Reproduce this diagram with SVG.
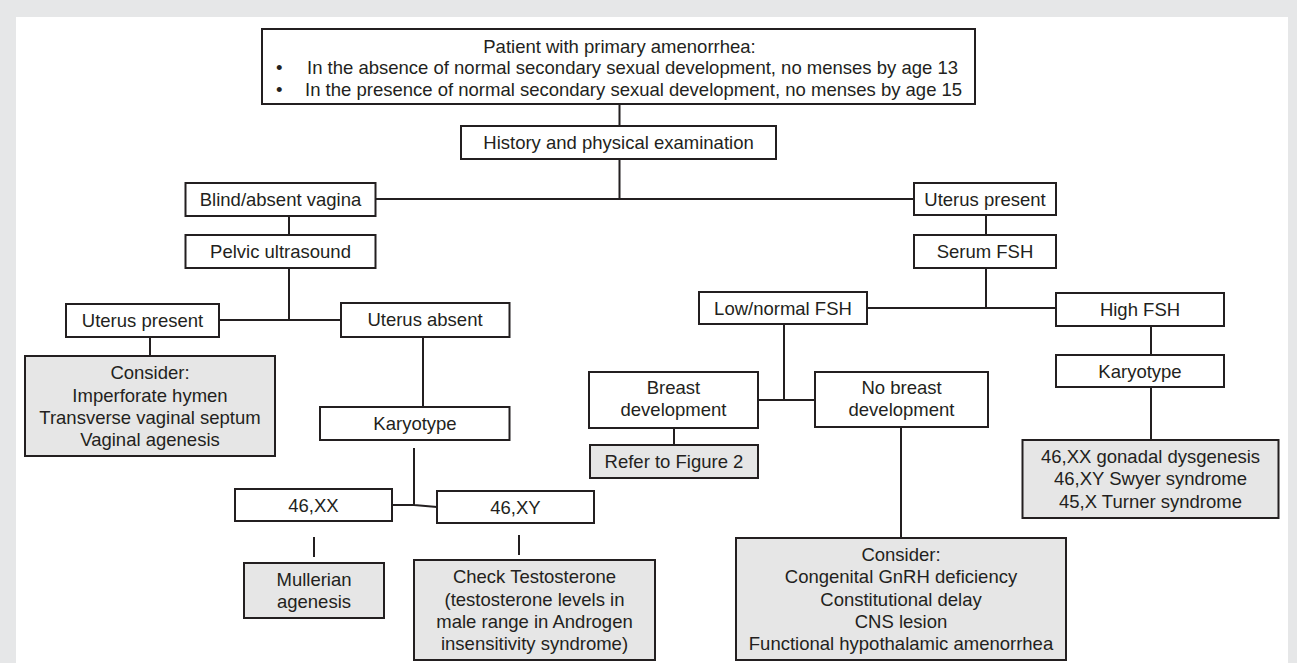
<svg xmlns="http://www.w3.org/2000/svg" width="1297" height="663" viewBox="0 0 1297 663">
<style>
.bx{fill:#ffffff;stroke:#231f20;stroke-width:2}
.gy{fill:#e6e6e6;stroke:#231f20;stroke-width:2}
.t{font-family:"Liberation Sans",Arial,sans-serif;font-size:18.5px;fill:#231f20;text-anchor:middle}
.l{font-family:"Liberation Sans",Arial,sans-serif;font-size:18.5px;fill:#231f20;text-anchor:start}
.c{fill:none;stroke:#231f20;stroke-width:2}
</style>
<rect x="0" y="0" width="1297" height="663" fill="#e6e7e8"/>
<rect x="16" y="17" width="1272" height="646" fill="#ffffff"/>
<g id="connectors">
<path class="c" d="M619.5 104V126 M619.5 159V199 M375.5 199H914 M289 216V235 M289 268V320 M219 320H341 M150 337V356 M423 337V407 M414 448V505 M392 505L414 505L437 507 M314 537V557 M519 535V555 M986 215V235 M986 268V308 M867 308H1056 M784 324V400 M758 400H815 M674 428V445 M901 427V538 M1151 326V355 M1151 387V440"/>
</g>
<g id="n-top"><rect class="bx" x="262" y="29" width="713" height="75"/>
<text class="t" x="619.5" y="53">Patient with primary amenorrhea:</text>
<text class="l" x="276" y="74">•</text><text class="l" x="307" y="74">In the absence of normal secondary sexual development, no menses by age 13</text>
<text class="l" x="276" y="96">•</text><text class="l" x="305" y="96">In the presence of normal secondary sexual development, no menses by age 15</text></g>
<g id="n-history"><rect class="bx" x="461" y="126" width="315" height="33"/><text class="t" x="618.5" y="149">History and physical examination</text></g>
<g id="n-blind"><rect class="bx" x="185.5" y="183" width="190" height="33"/><text class="t" x="280.5" y="206">Blind/absent vagina</text></g>
<g id="n-uterus-present-r"><rect class="bx" x="914" y="183" width="142" height="32"/><text class="t" x="985" y="206">Uterus present</text></g>
<g id="n-pelvic"><rect class="bx" x="185.5" y="235" width="190" height="33"/><text class="t" x="280.5" y="258">Pelvic ultrasound</text></g>
<g id="n-serum"><rect class="bx" x="914" y="235" width="142" height="33"/><text class="t" x="985" y="258">Serum FSH</text></g>
<g id="n-uterus-present-l"><rect class="bx" x="66" y="304" width="153" height="33"/><text class="t" x="142.5" y="327">Uterus present</text></g>
<g id="n-uterus-absent"><rect class="bx" x="341" y="303" width="168.5" height="34"/><text class="t" x="425" y="326">Uterus absent</text></g>
<g id="n-lownormal"><rect class="bx" x="699" y="292" width="168" height="32"/><text class="t" x="783" y="315">Low/normal FSH</text></g>
<g id="n-highfsh"><rect class="bx" x="1056" y="293" width="168" height="33"/><text class="t" x="1140" y="316">High FSH</text></g>
<g id="n-consider-l"><rect class="gy" x="25" y="356" width="250" height="100"/>
<text class="t" x="150" y="379">Consider:</text><text class="t" x="150" y="402">Imperforate hymen</text><text class="t" x="150" y="424">Transverse vaginal septum</text><text class="t" x="150" y="446">Vaginal agenesis</text></g>
<g id="n-karyotype-l"><rect class="bx" x="320" y="407" width="189.5" height="33"/><text class="t" x="415" y="430">Karyotype</text></g>
<g id="n-breast"><rect class="bx" x="589" y="372" width="169" height="56"/><text class="t" x="673.5" y="394">Breast</text><text class="t" x="673.5" y="416">development</text></g>
<g id="n-nobreast"><rect class="bx" x="815" y="372" width="173" height="55"/><text class="t" x="901.5" y="394">No breast</text><text class="t" x="901.5" y="416">development</text></g>
<g id="n-karyotype-r"><rect class="bx" x="1056" y="355" width="168" height="32"/><text class="t" x="1140" y="378">Karyotype</text></g>
<g id="n-refer"><rect class="gy" x="590" y="445" width="168" height="33"/><text class="t" x="674" y="468">Refer to Figure 2</text></g>
<g id="n-gonadal"><rect class="gy" x="1022.5" y="440" width="256" height="78"/>
<text class="t" x="1150.5" y="463">46,XX gonadal dysgenesis</text><text class="t" x="1150.5" y="485">46,XY Swyer syndrome</text><text class="t" x="1150.5" y="508">45,X Turner syndrome</text></g>
<g id="n-46xx"><rect class="bx" x="235" y="489" width="157" height="32"/><text class="t" x="313.5" y="512">46,XX</text></g>
<g id="n-46xy"><rect class="bx" x="437" y="491" width="157" height="32"/><text class="t" x="515.5" y="514">46,XY</text></g>
<g id="n-mullerian"><rect class="gy" x="244" y="563" width="140" height="55"/><text class="t" x="314" y="586">Mullerian</text><text class="t" x="314" y="608">agenesis</text></g>
<g id="n-testosterone"><rect class="gy" x="414" y="560" width="241" height="100"/>
<text class="t" x="534.5" y="583">Check Testosterone</text><text class="t" x="534.5" y="606">(testosterone levels in</text><text class="t" x="534.5" y="628">male range in Androgen</text><text class="t" x="534.5" y="650">insensitivity syndrome)</text></g>
<g id="n-consider-r"><rect class="gy" x="736" y="538" width="330" height="122"/>
<text class="t" x="901" y="561">Consider:</text><text class="t" x="901" y="583">Congenital GnRH deficiency</text><text class="t" x="901" y="606">Constitutional delay</text><text class="t" x="901" y="628">CNS lesion</text><text class="t" x="901" y="650">Functional hypothalamic amenorrhea</text></g>
</svg>
